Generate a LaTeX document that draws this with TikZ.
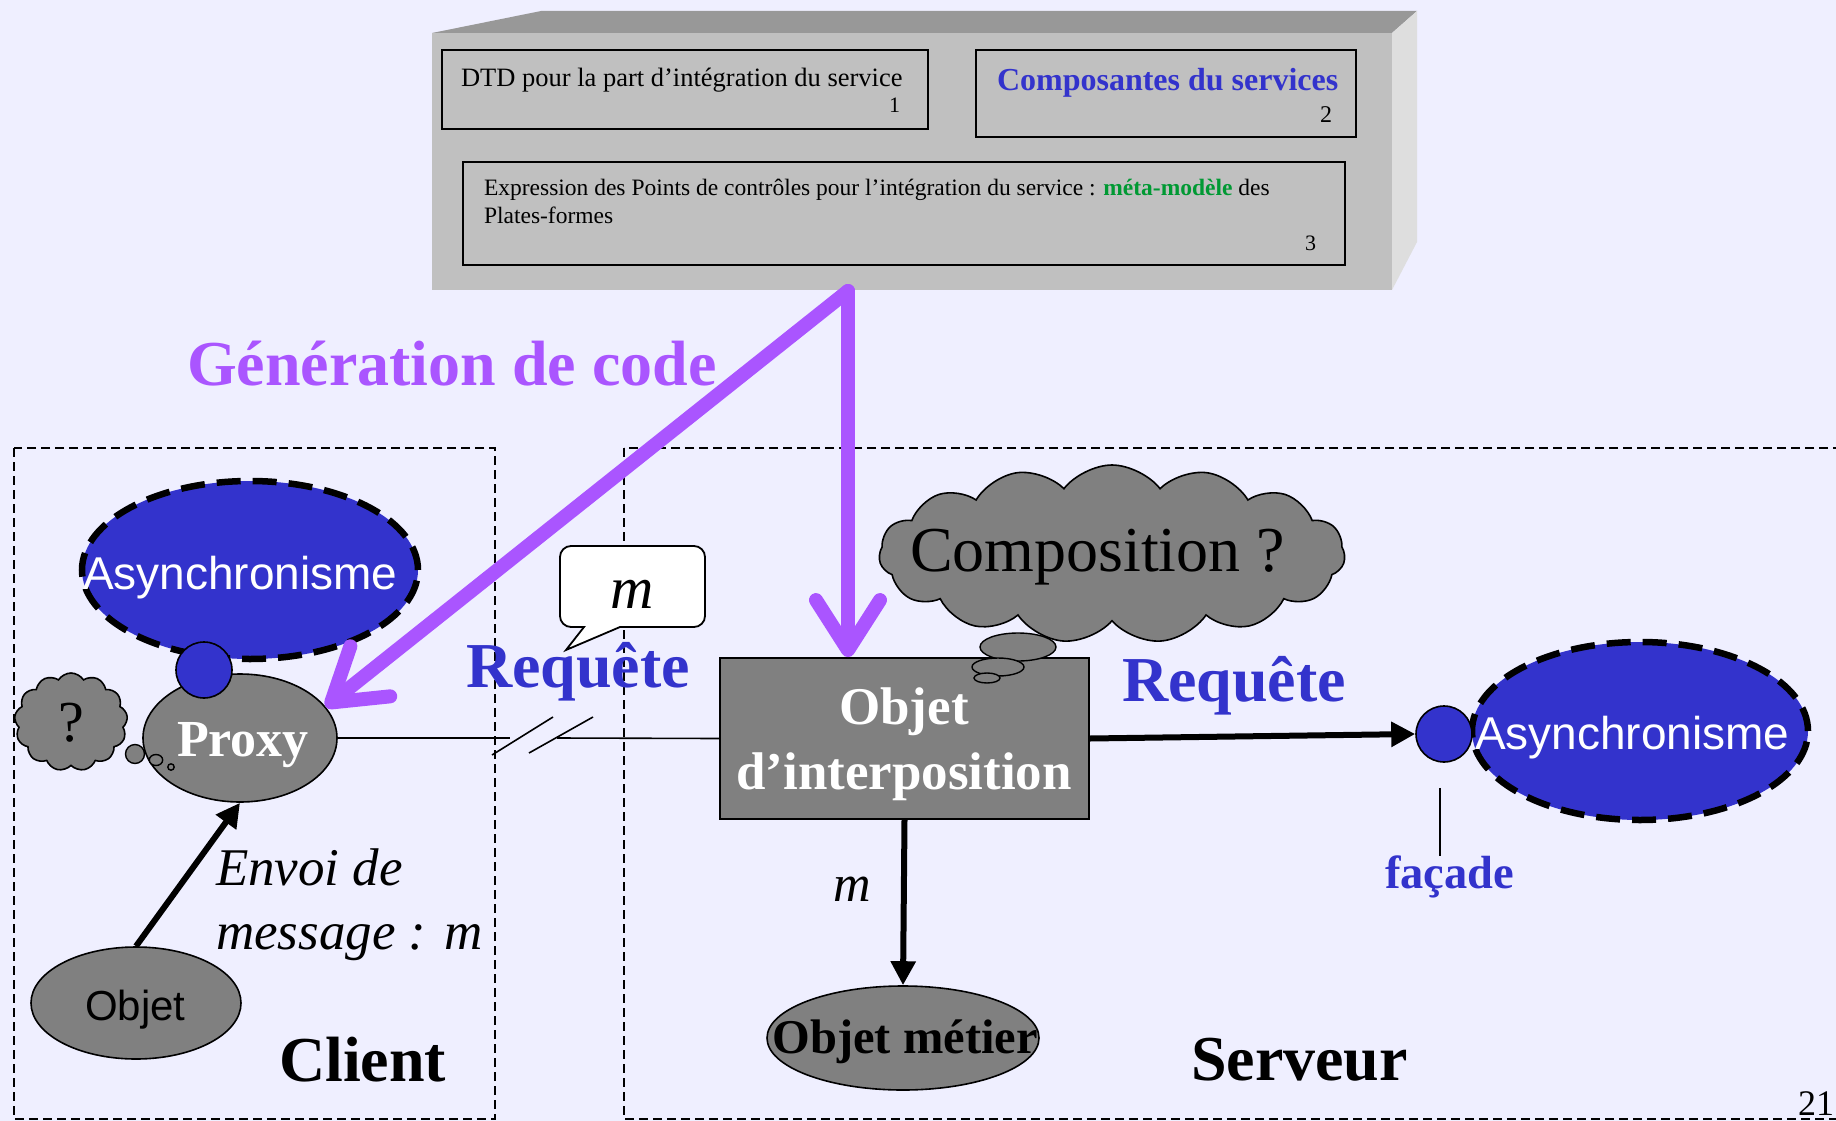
\documentclass[tikz,border=0pt]{standalone}
\usepackage{fontspec}
\setmainfont{Liberation Serif}
\setsansfont{Liberation Sans}
\usetikzlibrary{shapes.geometric,shapes.symbols,arrows.meta,calc}
\definecolor{bgcol}{RGB}{239,239,255}
\definecolor{azur}{RGB}{51,51,204}
\definecolor{genpurple}{RGB}{170,85,255}
\definecolor{midgray}{RGB}{128,128,128}
\definecolor{vert}{RGB}{0,153,51}
\definecolor{facefront}{RGB}{192,192,192}
\definecolor{facetop}{RGB}{152,152,152}
\definecolor{faceside}{RGB}{222,222,222}
\newcommand\setsz[1]{\fontsize{#1pt}{#1pt}\selectfont}
\begin{document}
\begin{tikzpicture}[x=1pt,y=-1pt,
  txt/.style={inner sep=0pt, outer sep=0pt},
  panel/.style={rectangle, draw=black, line width=1.8pt, inner sep=0pt},
  grayell/.style={ellipse, draw=black, line width=1.6pt, fill=midgray, inner sep=0pt},
  asyn/.style={ellipse, fill=azur, draw=black, line width=6.5pt, dash pattern=on 24pt off 12pt,
    minimum width=336pt, minimum height=178pt, inner sep=0pt},
  knob/.style={circle, fill=azur, draw=black, line width=1.6pt, inner sep=0pt, minimum size=56pt},
  thought/.style={cloud, cloud ignores aspect, fill=midgray, draw=black,
    line width=1.6pt, inner sep=0pt},
  puff/.style={ellipse, fill=midgray, draw=black, line width=1.4pt, inner sep=0pt},
  genarrow/.style={draw=genpurple, line width=14pt, line cap=round,
    -{Straight Barb[length=50pt, width=64pt, round]}},
  msg/.style={draw=black, line width=6pt, -{Triangle[length=24pt, width=24pt]}},
  frame/.style={draw=black, line width=1.6pt, dash pattern=on 9pt off 5pt},
]
\fill[bgcol] (0,0) rectangle (1836,1121);
\useasboundingbox (0,0) rectangle (1836,1121);

% the three-dimensional block holding the service description
\fill[facetop] (432,33) -- (541,11) -- (1417,11) -- (1392,33) -- cycle;
\fill[faceside] (1392,33) -- (1417,11) -- (1417,242) -- (1392,290) -- cycle;
\fill[facefront] (432,33) rectangle (1392,290);

\node[panel, minimum width=486pt, minimum height=79pt] (box1) at (685,89.5) {};
\node[panel, minimum width=380pt, minimum height=87pt] (box2) at (1166,93.5) {};
\node[panel, minimum width=882pt, minimum height=103pt] (box3) at (904,213.5) {};

\node[txt, anchor=base west, font=\setsz{26.5}] (t1) at (461,87) {DTD pour la part d’intégration du service};
\node[txt, anchor=base east, font=\setsz{22}] (n1) at (900,113) {1};
\node[txt, anchor=base west, font=\setsz{32}\bfseries, text=azur] (t2) at (997,90.7) {Composantes du services};
\node[txt, anchor=base east, font=\setsz{24}] (n2) at (1332,123) {2};
\node[txt, anchor=base west, font=\setsz{23.5}] (t3a) at (484,195)
  {Expression des Points de contrôles pour l’intégration du service : {\bfseries\color{vert}méta-modèle} des};
\node[txt, anchor=base west, font=\setsz{23.5}] (t3b) at (484,223) {Plates-formes};
\node[txt, anchor=base east, font=\setsz{22}] (n3) at (1316,250) {3};

% client and server areas
\draw[frame] (14,448) rectangle (495,1119);
\draw[frame] (624,448) rectangle (1850,1119);

\node[txt, anchor=base west, font=\setsz{64}\bfseries, text=genpurple] (gentxt) at (187,385) {Génération de code};

% client side
\node[asyn] (asynL) at (250,570) {};
\node[grayell, minimum width=194pt, minimum height=128pt] (proxy) at (240,738) {};
\node[knob] (knobL) at (204,670) {};
\node[thought, cloud puffs=13, cloud puff arc=115, minimum width=113pt, minimum height=98pt] (doubt) at (71,722) {};
\node[puff, minimum width=19pt, minimum height=19pt] (dp1) at (135,754) {};
\node[puff, minimum width=13.4pt, minimum height=11pt] (dp2) at (156,760) {};
\node[puff, minimum width=6.4pt, minimum height=6.4pt] (dp3) at (171,767) {};
\node[grayell, minimum width=210pt, minimum height=112pt] (objet) at (136,1003) {};

% server side
\node[rectangle, draw=black, line width=1.8pt, fill=midgray, minimum width=369pt, minimum height=161pt] (interp) at (904.5,738.5) {};
\node[thought, cloud puffs=15, cloud puff arc=105, minimum width=466pt, minimum height=178pt] (compo) at (1112,554) {};
\node[puff, minimum width=76pt, minimum height=28pt] (cp1) at (1018,647) {};
\node[puff, minimum width=52pt, minimum height=18pt] (cp2) at (998,667) {};
\node[puff, minimum width=26pt, minimum height=10pt] (cp3) at (987,678) {};
\node[asyn] (asynR) at (1640,731) {};
\node[knob] (knobR) at (1444,734) {};
\node[grayell, minimum width=272pt, minimum height=104pt] (metier) at (903,1038) {};

% connectors
\coordinate (brkA) at (510,738);
\coordinate (brkB) at (557,738);
\draw[line width=1.6pt] (proxy.east) -- (brkA);
\draw[line width=1.6pt] (brkB) -- (interp.west);
\draw[line width=1.6pt] (492,755) -- (553,717);
\draw[line width=1.6pt] (529,753) -- (593,717);
\draw[msg] (objet.north) -- (proxy.south);
\draw[msg] (interp.east) -- (knobR.west);
\draw[msg] (interp.south) -- (metier.north);

% message bubble
\draw[fill=white, line width=1.8pt] (584,627) -- (566,650) -- (620,627)
  [rounded corners=11pt] -- (705,627) -- (705,546) -- (560,546) -- (560,627) [sharp corners] -- cycle;
\node[txt, anchor=base, font=\setsz{60}\itshape] (bubm) at (632,608) {m};

% labels
\node[txt, anchor=base west, font=\sffamily\setsz{46}, text=white] (asynLt) at (83,589) {Asynchronisme};
\node[txt, anchor=base west, font=\sffamily\setsz{46}, text=white] (asynRt) at (1475,749) {Asynchronisme};
\node[txt, anchor=base west, font=\setsz{52}\bfseries, text=white] (proxyt) at (177,756.5) {Proxy};
\node[txt, anchor=base, font=\setsz{58}] (doubtt) at (71,741.7) {?};
\node[txt, anchor=base west, font=\sffamily\setsz{42}] (objett) at (85,1020) {Objet};
\node[txt, anchor=base west, font=\setsz{53}\itshape] (envoi1) at (216,885) {Envoi de};
\node[txt, anchor=base west, font=\setsz{53}\itshape] (envoi2) at (216,949) {message : m};
\node[txt, anchor=base west, font=\setsz{64}\bfseries] (client) at (279,1081) {Client};
\node[txt, anchor=base west, font=\setsz{64}\bfseries, text=azur] (reqL) at (466,687) {Requête};
\node[txt, anchor=base west, font=\setsz{64}\bfseries, text=azur] (reqR) at (1122,701) {Requête};
\node[txt, anchor=base, font=\setsz{53}\bfseries, text=white] (interpt1) at (904,724) {Objet};
\node[txt, anchor=base, font=\setsz{53}\bfseries, text=white] (interpt2) at (904,789.5) {d’interposition};
\node[txt, anchor=base west, font=\setsz{64}] (compot) at (910,571.7) {Composition ?};
\node[txt, anchor=base west, font=\setsz{52}\itshape] (mdown) at (833,901.6) {m};
\node[txt, anchor=base west, font=\setsz{48.5}\bfseries] (metiert) at (772.5,1053) {Objet métier};
\node[txt, anchor=base west, font=\setsz{64}\bfseries] (serveur) at (1191,1080.5) {Serveur};
\node[txt, anchor=base west, font=\setsz{46.5}\bfseries, text=azur] (facade) at (1385,888.5) {façade};
\draw[line width=1.6pt] ([xshift=-4pt, yshift=-25pt]knobR.south) -- ([xshift=-4pt]knobR.south |- facade.north);
\node[txt, anchor=base east, font=\setsz{36}] (page) at (1834,1115) {21};

% code generation arrows
\coordinate (gen) at (848,291);
\draw[genarrow] (gen) -- (proxy.20);
\draw[genarrow] (gen) -- (gen |- interp.north);
\end{tikzpicture}
\end{document}
